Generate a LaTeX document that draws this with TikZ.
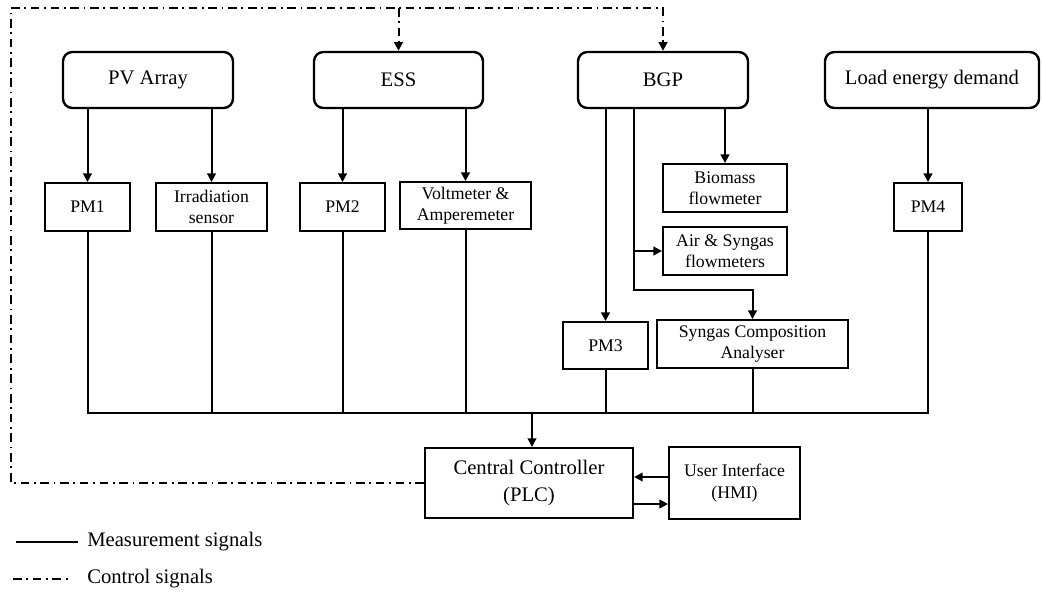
\documentclass[tikz,border=0pt]{standalone}
\usepackage{fontspec}
\setmainfont{Liberation Serif}
\usepackage{tikz}
\usetikzlibrary{arrows.meta,positioning}

\begin{document}
\begin{tikzpicture}[
  x=0.75pt, y=-0.75pt,
  unit/.style={rectangle, draw, rounded corners=7pt, line width=1.8pt, inner sep=0pt, minimum width=127.5pt, minimum height=42pt, align=center, font=\fontsize{15.5}{20}\selectfont},
  meter/.style={rectangle, draw, line width=1.4pt, inner sep=0pt, minimum height=36pt, align=center, font=\fontsize{13.3}{16}\selectfont},
  arr/.style={-{Triangle[length=6.5pt,width=6.5pt]}, line width=1.5pt},
  sig/.style={line width=1.5pt},
  ctrl/.style={line width=1.5pt, dash pattern=on 6.5pt off 3.5pt on 1.3pt off 3.5pt}
]
\useasboundingbox (0,0) rectangle (1042,593);

% sources
\node[unit] (pv) at (148,80) {PV Array};
\node[unit, minimum width=126.75pt] (ess) at (398.5,80) {ESS};
\node[unit] (bgp) at (663,80) {BGP};
\node[unit, minimum width=160.5pt] (load) at (932,80) {Load energy demand};

% meters and sensors
\node[meter, minimum width=63.75pt] (pm1) at (87.5,207) {PM1};
\node[meter, minimum width=83.25pt] (irr) at (211.5,207) {Irradiation\\sensor};
\node[meter, minimum width=63.75pt] (pm2) at (342.5,207) {PM2};
\node[meter, minimum width=98.25pt, minimum height=35.25pt] (volt) at (465.5,205.5) {Voltmeter \&\\Amperemeter};
\node[meter, minimum width=93pt] (bio) at (725,188) {Biomass\\flowmeter};
\node[meter, minimum width=93pt] (air) at (725,251) {Air \& Syngas\\flowmeters};
\node[meter, minimum width=63.75pt, minimum height=35.25pt] (pm3) at (605.5,345.5) {PM3};
\node[meter, minimum width=143.25pt] (syn) at (752.5,344) {Syngas Composition\\Analyser};
\node[meter, minimum width=51pt] (pm4) at (928,207) {PM4};

% controller
\node[meter, line width=1.6pt, minimum width=156pt, minimum height=52.5pt, font=\fontsize{15.5}{20}\selectfont] (plc) at (529,483) {Central Controller\\(PLC)};
\node[meter, minimum width=98.25pt, minimum height=54pt] (hmi) at (734.5,483) {User Interface\\(HMI)};

\coordinate (tap) at (634,290);
\coordinate (bus) at (532,413);
\coordinate (top) at (11,8);

% measurement paths
\draw[arr] (pm1 |- pv.south) -- (pm1.north);
\draw[arr] (irr |- pv.south) -- (irr.north);
\draw[arr] (pm2 |- ess.south) -- (pm2.north);
\draw[arr] (volt |- ess.south) -- (volt.north);
\draw[arr] (pm3 |- bgp.south) -- (pm3.north);
\draw[arr] (bio |- bgp.south) -- (bio.north);
\draw[arr] (tap |- bgp.south) -- (tap) -| (syn.north);
\draw[arr] (air.west -| tap) -- (air.west);
\draw[arr] (pm4 |- load.south) -- (pm4.north);

\draw[sig] (pm1.south) -- (pm1.south |- bus) -- (pm4.south |- bus) -- (pm4.south);
\draw[sig] (irr.south) -- (irr.south |- bus);
\draw[sig] (pm2.south) -- (pm2.south |- bus);
\draw[sig] (volt.south) -- (volt.south |- bus);
\draw[sig] (pm3.south) -- (pm3.south |- bus);
\draw[sig] (syn.south) -- (syn.south |- bus);
\draw[arr] (bus) -- (bus |- plc.north);

\draw[arr] (hmi.west |- 0,477) -- (plc.east |- 0,477);
\draw[arr] (plc.east |- 0,504) -- (hmi.west |- 0,504);

% control paths
\draw[ctrl, arr] (plc.west) -| (top) -| (bgp.north);
\draw[ctrl, arr] (ess.north |- top) -- (ess.north);

% legend
\coordinate (m0) at (16,542);
\coordinate (c0) at (13,579);
\node[anchor=west, inner sep=0pt, font=\fontsize{15.5}{18}\selectfont] (lm) at (87,542) {Measurement signals};
\node[anchor=west, inner sep=0pt, font=\fontsize{15.5}{18}\selectfont] (lc) at (87,579) {Control signals};
\draw[sig] (m0) -- ([xshift=-6.75pt]lm.west);
\draw[ctrl] (c0) -- ([xshift=-11.25pt]lc.west);
\end{tikzpicture}
\end{document}
